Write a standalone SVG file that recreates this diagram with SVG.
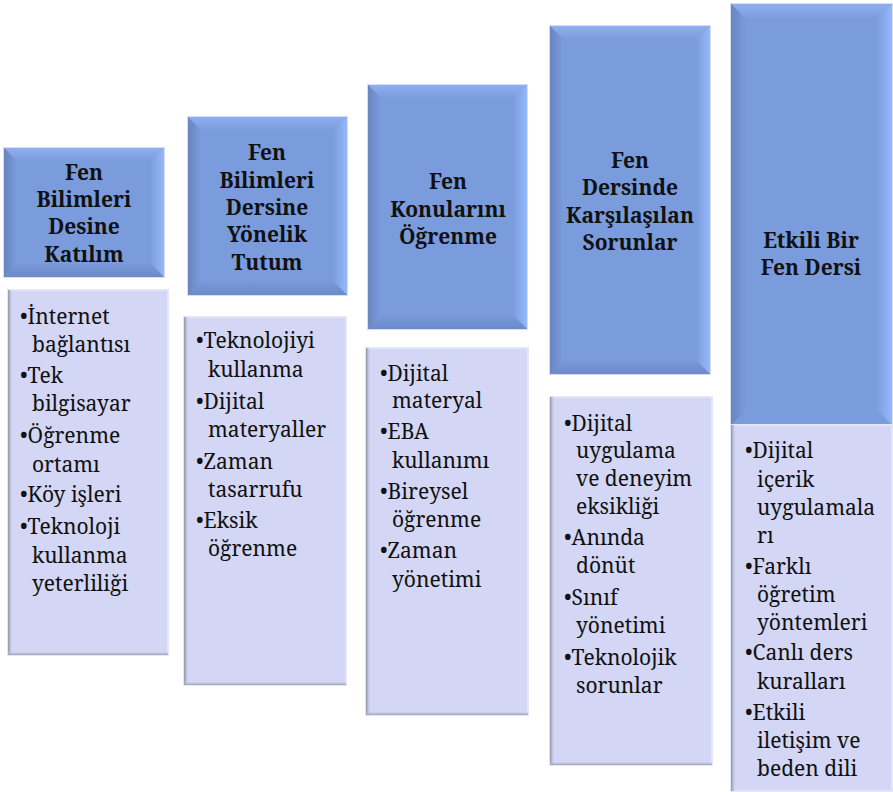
<svg xmlns="http://www.w3.org/2000/svg" width="893" height="792" viewBox="0 0 893 792">
<defs>
<linearGradient id="gL" x1="0" y1="0" x2="1" y2="0"><stop offset="0" stop-color="#6a85bf"/><stop offset="1" stop-color="#7a9bdc"/></linearGradient>
<linearGradient id="gR" x1="0" y1="0" x2="1" y2="0"><stop offset="0" stop-color="#7d9fe0"/><stop offset="1" stop-color="#95b8fc"/></linearGradient>
<linearGradient id="gT" x1="0" y1="0" x2="0" y2="1"><stop offset="0" stop-color="#90aff0"/><stop offset="1" stop-color="#7c9cdd"/></linearGradient>
<linearGradient id="gB" x1="0" y1="0" x2="0" y2="1"><stop offset="0" stop-color="#7898d8"/><stop offset="1" stop-color="#6c8ac8"/></linearGradient>
<linearGradient id="sL" x1="0" y1="0" x2="1" y2="0"><stop offset="0" stop-color="#8c8ea6"/><stop offset="1" stop-color="#d3d6f4" stop-opacity="0"/></linearGradient>
<linearGradient id="sB" x1="0" y1="0" x2="0" y2="1"><stop offset="0" stop-color="#d3d6f4" stop-opacity="0"/><stop offset="1" stop-color="#9a9cb4"/></linearGradient>
</defs>
<style>
.main{fill:#7a9bdc}
.glow{fill:none;stroke:#d6def0;stroke-width:2}
.lb{fill:#d3d6f4;stroke:#e4e6f5;stroke-width:2}
.h{font-weight:bold;font-size:21px;fill:#111;text-anchor:middle}
.t{font-size:21px;fill:#111}
</style>
<rect width="893" height="792" fill="#ffffff"/>
<g id="col1">
<g id="h1">
<rect class="glow" x="4" y="148" width="160" height="129"/>
<rect class="main" x="4" y="148" width="160" height="129"/>
<polygon fill="url(#gT)" points="4,148 164,148 151,161 17,161"/>
<polygon fill="url(#gL)" points="4,148 17,161 17,264 4,277"/>
<polygon fill="url(#gR)" points="164,148 164,277 151,264 151,161"/>
<polygon fill="url(#gB)" points="4,277 17,264 151,264 164,277"/>
<text class="h" style="font-family:'Noto Serif','Liberation Serif',serif"><tspan x="84" y="180">Fen</tspan><tspan x="84" y="207">Bilimleri</tspan><tspan x="84" y="234">Desine</tspan><tspan x="84" y="262">Katılım</tspan></text>
</g>
<g id="b1">
<rect class="lb" x="8" y="290" width="160" height="365"/>
<rect fill="url(#sL)" x="8" y="290" width="5" height="365"/>
<rect fill="url(#sB)" x="8" y="651" width="160" height="4"/>
<text class="t" style="font-family:'Noto Serif','Liberation Serif',serif"><tspan x="20" y="324">•İnternet</tspan><tspan x="32" y="352">bağlantısı</tspan><tspan x="20" y="383">•Tek</tspan><tspan x="32" y="411">bilgisayar</tspan><tspan x="20" y="443">•Öğrenme</tspan><tspan x="32" y="472">ortamı</tspan><tspan x="20" y="502">•Köy işleri</tspan><tspan x="20" y="534">•Teknoloji</tspan><tspan x="32" y="563">kullanma</tspan><tspan x="32" y="591">yeterliliği</tspan></text>
</g>
</g>

<g id="col2">
<g id="h2">
<rect class="glow" x="188" y="117" width="159" height="178"/>
<rect class="main" x="188" y="117" width="159" height="178"/>
<polygon fill="url(#gT)" points="188,117 347,117 334,130 201,130"/>
<polygon fill="url(#gL)" points="188,117 201,130 201,282 188,295"/>
<polygon fill="url(#gR)" points="347,117 347,295 334,282 334,130"/>
<polygon fill="url(#gB)" points="188,295 201,282 334,282 347,295"/>
<text class="h" style="font-family:'Noto Serif','Liberation Serif',serif"><tspan x="267" y="160">Fen</tspan><tspan x="267" y="188">Bilimleri</tspan><tspan x="267" y="215">Dersine</tspan><tspan x="267" y="242">Yönelik</tspan><tspan x="267" y="270">Tutum</tspan></text>
</g>
<g id="b2">
<rect class="lb" x="184" y="317" width="162" height="368"/>
<rect fill="url(#sL)" x="184" y="317" width="5" height="368"/>
<rect fill="url(#sB)" x="184" y="681" width="162" height="4"/>
<text class="t" style="font-family:'Noto Serif','Liberation Serif',serif"><tspan x="196" y="348">•Teknolojiyi</tspan><tspan x="208" y="377">kullanma</tspan><tspan x="196" y="409">•Dijital</tspan><tspan x="208" y="437">materyaller</tspan><tspan x="196" y="469">•Zaman</tspan><tspan x="208" y="497">tasarrufu</tspan><tspan x="196" y="528">•Eksik</tspan><tspan x="208" y="556">öğrenme</tspan></text>
</g>
</g>

<g id="col3">
<g id="h3">
<rect class="glow" x="368" y="85" width="159" height="244"/>
<rect class="main" x="368" y="85" width="159" height="244"/>
<polygon fill="url(#gT)" points="368,85 527,85 514,98 381,98"/>
<polygon fill="url(#gL)" points="368,85 381,98 381,316 368,329"/>
<polygon fill="url(#gR)" points="527,85 527,329 514,316 514,98"/>
<polygon fill="url(#gB)" points="368,329 381,316 514,316 527,329"/>
<text class="h" style="font-family:'Noto Serif','Liberation Serif',serif"><tspan x="448" y="189">Fen</tspan><tspan x="448" y="217">Konularını</tspan><tspan x="448" y="244">Öğrenme</tspan></text>
</g>
<g id="b3">
<rect class="lb" x="366" y="348" width="162" height="367"/>
<rect fill="url(#sL)" x="366" y="348" width="5" height="367"/>
<rect fill="url(#sB)" x="366" y="711" width="162" height="4"/>
<text class="t" style="font-family:'Noto Serif','Liberation Serif',serif"><tspan x="380" y="381">•Dijital</tspan><tspan x="392" y="408">materyal</tspan><tspan x="380" y="439">•EBA</tspan><tspan x="392" y="468">kullanımı</tspan><tspan x="380" y="499">•Bireysel</tspan><tspan x="392" y="527">öğrenme</tspan><tspan x="380" y="558">•Zaman</tspan><tspan x="392" y="587">yönetimi</tspan></text>
</g>
</g>

<g id="col4">
<g id="h4">
<rect class="glow" x="550" y="26" width="160" height="348"/>
<rect class="main" x="550" y="26" width="160" height="348"/>
<polygon fill="url(#gT)" points="550,26 710,26 697,39 563,39"/>
<polygon fill="url(#gL)" points="550,26 563,39 563,361 550,374"/>
<polygon fill="url(#gR)" points="710,26 710,374 697,361 697,39"/>
<polygon fill="url(#gB)" points="550,374 563,361 697,361 710,374"/>
<text class="h" style="font-family:'Noto Serif','Liberation Serif',serif"><tspan x="630" y="168">Fen</tspan><tspan x="630" y="195">Dersinde</tspan><tspan x="630" y="223">Karşılaşılan</tspan><tspan x="630" y="250">Sorunlar</tspan></text>
</g>
<g id="b4">
<rect class="lb" x="550" y="397" width="162" height="368"/>
<rect fill="url(#sL)" x="550" y="397" width="5" height="368"/>
<rect fill="url(#sB)" x="550" y="761" width="162" height="4"/>
<text class="t" style="font-family:'Noto Serif','Liberation Serif',serif"><tspan x="564" y="431">•Dijital</tspan><tspan x="576" y="458">uygulama</tspan><tspan x="576" y="486">ve deneyim</tspan><tspan x="576" y="514">eksikliği</tspan><tspan x="564" y="545">•Anında</tspan><tspan x="576" y="573">dönüt</tspan><tspan x="564" y="605">•Sınıf</tspan><tspan x="576" y="633">yönetimi</tspan><tspan x="564" y="665">•Teknolojik</tspan><tspan x="576" y="693">sorunlar</tspan></text>
</g>
</g>

<g id="col5">
<g id="h5">
<rect class="glow" x="731" y="4" width="161" height="421"/>
<rect class="main" x="731" y="4" width="161" height="421"/>
<polygon fill="url(#gT)" points="731,4 892,4 877,19 746,19"/>
<polygon fill="url(#gL)" points="731,4 746,19 746,410 731,425"/>
<polygon fill="url(#gR)" points="892,4 892,425 877,410 877,19"/>
<text class="h" style="font-family:'Noto Serif','Liberation Serif',serif"><tspan x="811" y="248">Etkili Bir</tspan><tspan x="811" y="275">Fen Dersi</tspan></text>
</g>
<g id="b5">
<rect class="lb" x="731" y="425" width="161" height="366"/>
<rect fill="url(#sL)" x="731" y="425" width="5" height="366"/>
<text class="t" style="font-family:'Noto Serif','Liberation Serif',serif"><tspan x="745" y="458">•Dijital</tspan><tspan x="757" y="487">içerik</tspan><tspan x="757" y="515">uygulamala</tspan><tspan x="757" y="543">rı</tspan><tspan x="745" y="574">•Farklı</tspan><tspan x="757" y="602">öğretim</tspan><tspan x="757" y="630">yöntemleri</tspan><tspan x="745" y="660">•Canlı ders</tspan><tspan x="757" y="689">kuralları</tspan><tspan x="745" y="720">•Etkili</tspan><tspan x="757" y="748">iletişim ve</tspan><tspan x="757" y="776">beden dili</tspan></text>
</g>
</g>
</svg>
